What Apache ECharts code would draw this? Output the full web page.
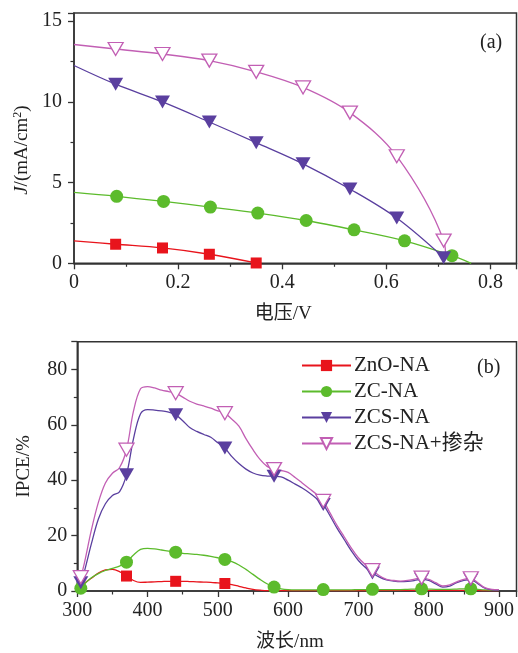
<!DOCTYPE html>
<html>
<head>
<meta charset="utf-8">
<script src="https://cdn.jsdelivr.net/npm/echarts@6/dist/echarts.min.js"></script>
<style>
  html, body { margin: 0; padding: 0; background: #fff; }
  #main { width: 518px; height: 653px; }
</style>
</head>
<body>
<div id="main"></div>
<script>
// series names
const names = ['ZnO-NA', 'ZC-NA', 'ZCS-NA', 'ZCS-NA+掺杂']

// (a) J-V curves
const vZnO = [0, 0.08, 0.17, 0.26, 0.35]
const jZnO = [1.39, 1.18, 0.95, 0.56, 0.02]
const vZC = [0, 0.082, 0.172, 0.262, 0.353, 0.446, 0.538, 0.635, 0.726, 0.763]
const jZC = [4.39, 4.15, 3.83, 3.48, 3.11, 2.65, 2.07, 1.39, 0.47, 0]
const vZCS = [0, 0.08, 0.17, 0.26, 0.35, 0.44, 0.53, 0.62, 0.71]
const jZCS = [12.25, 11.09, 9.99, 8.75, 7.47, 6.16, 4.6, 2.8, 0.35]
const vDop = [0, 0.08, 0.17, 0.26, 0.35, 0.44, 0.53, 0.62, 0.71, 0.714]
const jDop = [13.55, 13.27, 12.96, 12.55, 11.86, 10.89, 9.33, 6.63, 1.41, 0.3]
// which points of each curve carry a marker
const markZnO = [1, 2, 3, 4]
const markZC = [1, 2, 3, 4, 5, 6, 7, 8]
const markZCS = [1, 2, 3, 4, 5, 6, 7, 8]
const markDop = [1, 2, 3, 4, 5, 6, 7, 8]

// (b) IPCE spectra
const wl = [300, 305, 310, 320, 330, 340, 350, 360, 370, 380, 390, 400, 410, 420, 430, 440, 450,
  460, 470, 480, 490, 500, 510, 520, 530, 540, 550, 560, 570, 580, 590, 600, 610, 620, 630, 640,
  650, 660, 670, 680, 690, 700, 710, 720, 730, 740, 750, 760, 770, 780, 790, 800, 810, 820, 830,
  840, 850, 860, 870, 880, 890, 900]
const ipceZnO = [0, 1.5, 2.8, 4.6, 6.5, 7.6, 7.8, 7, 5.4, 3.8, 3.1, 3.2, 3.3, 3.4, 3.5, 3.5, 3.5,
  3.4, 3.3, 3.2, 3.1, 2.9, 2.7, 2.3, 1.7, 1.1, 0.6, 0.3, 0.1, 0.1, 0.1, 0.1, 0.1, 0.1, 0.1, 0.1,
  0.1, 0.1, 0.1, 0.1, 0.1, 0.1, 0.1, 0.2, 0.2, 0.2, 0.2, 0.2, 0.2, 0.2, 0.2, 0.2, 0.2, 0.2, 0.2,
  0.2, 0.2, 0.2, 0.2, 0.1, 0.1, 0.1]
const ipceZC = [0, 1, 2.5, 4.8, 6.3, 7.4, 8.2, 9, 10.4, 13, 15, 15.4, 15.2, 14.8, 14.4, 14, 13.6,
  13.4, 13.2, 12.9, 12.5, 12, 11.4, 10.6, 9.4, 7.8, 6, 4.2, 2.6, 1.4, 0.8, 0.5, 0.4, 0.4, 0.4, 0.4,
  0.5, 0.4, 0.4, 0.4, 0.4, 0.5, 0.5, 0.6, 0.5, 0.5, 0.5, 0.5, 0.6, 0.7, 0.8, 0.7, 0.6, 0.6, 0.6,
  0.7, 0.8, 0.8, 0.6, 0.4, 0.3, 0.3]
const ipceZCS = [0, 3, 7, 17, 26, 31.5, 34.5, 35.8, 42, 55, 64, 65.5, 65.3, 65, 64.6, 63.6, 61.5,
  59, 57.6, 56.5, 55.5, 53.5, 51.6, 48.5, 46, 44, 42.6, 41.8, 41.5, 41.4, 41.2, 40, 38.6, 37.2,
  35.5, 33.5, 31.2, 27, 22.5, 18.5, 14.5, 11, 8.5, 6.5, 5, 4, 3.6, 3.4, 3.5, 3.8, 4.2, 3.8, 2.6,
  1.4, 1.8, 3, 3.8, 4.1, 2.6, 1, 0.4, 0.3]
const ipceDop = [1, 5, 10, 22, 32, 39, 42.5, 44.5, 51, 65, 73, 73.8, 73.3, 72.5, 72, 71.4, 70,
  68.5, 67.5, 66.8, 66, 65, 64.2, 62, 59.5, 55, 51, 47.5, 45, 44, 43.5, 42.8, 41, 39, 37, 35,
  32.5, 28, 23.5, 19.5, 15.5, 12, 9.5, 7.5, 5.5, 4.2, 3.8, 3.6, 3.8, 4.3, 4.8, 4.2, 3, 1.8, 2.2,
  3.3, 4.2, 4.6, 3, 1.2, 0.6, 0.5]
// wavelengths carrying a marker
const markWlZnO = [370, 440, 510]
const markWl = [305, 370, 440, 510, 580, 650, 720, 790, 860]

const colors = ['#e8141c', '#5cbb2c', '#5a3f9f', '#c25fb4']
const fontFam = "'Liberation Serif', 'Noto Sans CJK SC', serif"
const axisColor = '#333'

function pts(xs, ys, mark) {
  return xs.map((x, i) => mark.indexOf(i) >= 0 ? [x, ys[i]] : { value: [x, ys[i]], symbol: 'none' })
}
function ptsWl(ys, marks) {
  return wl.map((x, i) => marks.indexOf(x) >= 0 ? [x, ys[i]] : { value: [x, ys[i]], symbol: 'none' })
}

const symbols = [
  { symbol: 'rect', symbolSize: 11, symbolRotate: 0 },
  { symbol: 'circle', symbolSize: 13, symbolRotate: 0 },
  { symbol: 'triangle', symbolSize: [15, 13], symbolRotate: 180 },
  { symbol: 'triangle', symbolSize: [15, 13], symbolRotate: 180 }
]

function makeSeries(idx, data, gridIdx) {
  const hollow = idx === 3
  return {
    name: names[idx],
    type: 'line',
    xAxisIndex: gridIdx,
    yAxisIndex: gridIdx,
    data: data,
    smooth: 0.35,
    showAllSymbol: true,
    symbol: symbols[idx].symbol,
    symbolSize: symbols[idx].symbolSize,
    symbolRotate: symbols[idx].symbolRotate,
    lineStyle: { color: colors[idx], width: 1.3 },
    itemStyle: hollow
      ? { color: '#fff', borderColor: colors[idx], borderWidth: 1.3 }
      : { color: colors[idx], borderWidth: 0 },
    emphasis: { disabled: true },
    animation: false
  }
}

function valueAxis(opt) {
  return Object.assign({
    type: 'value',
    nameLocation: 'middle',
    nameTextStyle: { fontFamily: fontFam, fontSize: 19, color: '#222' },
    axisLine: { show: true, onZero: false, lineStyle: { color: axisColor, width: 1.5 } },
    axisTick: { show: true, inside: false, length: 6, lineStyle: { color: axisColor, width: 1.3 } },
    minorTick: { show: true, splitNumber: 2, length: 3.5, lineStyle: { color: axisColor, width: 1.2 } },
    splitLine: { show: false },
    axisLabel: { fontFamily: fontFam, fontSize: 20, color: '#222', showMaxLabel: false }
  }, opt)
}

const chart = echarts.init(document.getElementById('main'))
chart.setOption({
  backgroundColor: '#fff',
  animation: false,
  title: [
    { text: '(a)', left: 475, top: 28, textStyle: { fontFamily: fontFam, fontSize: 20, fontWeight: 'normal', color: '#222' } },
    { text: '(b)', left: 472, top: 353, textStyle: { fontFamily: fontFam, fontSize: 20, fontWeight: 'normal', color: '#222' } }
  ],
  legend: {
    data: names,
    orient: 'vertical',
    left: 301,
    top: 355,
    padding: 0,
    itemWidth: 49,
    itemHeight: 14,
    itemGap: 5,
    textStyle: { fontFamily: fontFam, fontSize: 21, color: '#222', padding: [0, 0, 0, -2] }
  },
  grid: [
    { left: 74, top: 13, right: 1.5, bottom: 389.7, show: true, borderColor: axisColor, borderWidth: 1.5 },
    { left: 77.3, top: 341.7, right: 1.5, bottom: 61.3, show: true, borderColor: axisColor, borderWidth: 1.5 }
  ],
  xAxis: [
    valueAxis({
      gridIndex: 0, min: 0, max: 0.85, interval: 0.2,
      name: '电压/V', nameGap: 41,
      nameTextStyle: { fontFamily: fontFam, fontSize: 19, color: '#222', padding: [0, 24, 0, 0] },
      axisLabel: { fontFamily: fontFam, fontSize: 20, color: '#222', margin: 9, showMaxLabel: false,
        formatter: v => v === 0 ? '0' : v.toFixed(1) }
    }),
    valueAxis({
      gridIndex: 1, min: 300, max: 925, interval: 100,
      name: '波长/nm', nameGap: 42,
      nameTextStyle: { fontFamily: fontFam, fontSize: 19, color: '#222', padding: [0, 14, 0, 0] },
      axisLabel: { fontFamily: fontFam, fontSize: 20, color: '#222', margin: 10, showMaxLabel: false }
    })
  ],
  yAxis: [
    valueAxis({
      gridIndex: 0, min: 0, max: 15.5, interval: 5,
      name: '{i|J}/(mA/cm{s|2})', nameGap: 41,
      nameTextStyle: {
        fontFamily: fontFam, fontSize: 19, color: '#222', padding: [0, 24, 0, 0],
        rich: {
          i: { fontFamily: fontFam, fontSize: 19, fontStyle: 'italic', color: '#222' },
          s: { fontFamily: fontFam, fontSize: 12, color: '#222', padding: [0, 0, 8, 0] }
        }
      },
      axisLabel: { fontFamily: fontFam, fontSize: 20, color: '#222', margin: 12, showMaxLabel: false }
    }),
    valueAxis({
      gridIndex: 1, min: 0, max: 90, interval: 20,
      name: 'IPCE/%', nameGap: 44,
      axisLabel: { fontFamily: fontFam, fontSize: 20, color: '#222', margin: 10, showMaxLabel: false }
    })
  ],
  series: [
    makeSeries(0, pts(vZnO, jZnO, markZnO), 0),
    makeSeries(1, pts(vZC, jZC, markZC), 0),
    makeSeries(2, pts(vZCS, jZCS, markZCS), 0),
    makeSeries(3, pts(vDop, jDop, markDop), 0),
    makeSeries(0, ptsWl(ipceZnO, markWlZnO), 1),
    makeSeries(1, ptsWl(ipceZC, markWl), 1),
    makeSeries(2, ptsWl(ipceZCS, markWl), 1),
    makeSeries(3, ptsWl(ipceDop, markWl), 1)
  ]
})
</script>
</body>
</html>
